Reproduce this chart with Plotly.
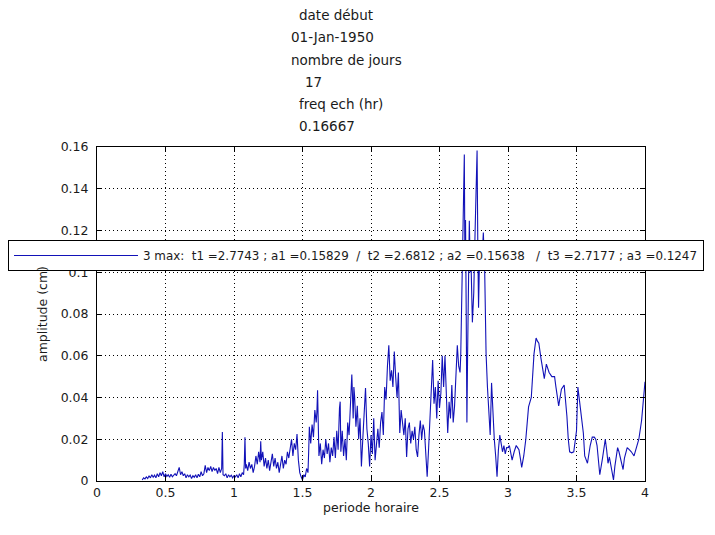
import plotly.graph_objects as go

# ---- data ----
periode = [
    0.33, 0.34, 0.35, 0.36, 0.37, 0.38, 0.39, 0.40, 0.41, 0.42, 0.43, 0.44, 0.45, 0.46, 0.47, 0.48, 0.49,
    0.50, 0.51, 0.52, 0.53, 0.54, 0.55, 0.56, 0.57, 0.58, 0.59, 0.60, 0.61, 0.62, 0.63, 0.64, 0.65, 0.66,
    0.67, 0.68, 0.69, 0.70, 0.71, 0.72, 0.73, 0.74, 0.75, 0.76, 0.77, 0.78, 0.79, 0.80, 0.81, 0.82, 0.83,
    0.84, 0.85, 0.86, 0.87, 0.88, 0.89, 0.90, 0.91, 0.915, 0.92, 0.93, 0.94, 0.95, 0.96, 0.97, 0.98, 0.99,
    1.00, 1.01, 1.02, 1.03, 1.04, 1.05, 1.06, 1.07, 1.075, 1.08, 1.085, 1.09, 1.10, 1.11, 1.12, 1.13, 1.14,
    1.15, 1.16, 1.17, 1.18, 1.19, 1.195, 1.20, 1.21, 1.22, 1.23, 1.24, 1.25, 1.26, 1.27, 1.28, 1.29, 1.30,
    1.31, 1.32, 1.33, 1.34, 1.35, 1.36, 1.37, 1.38, 1.39, 1.40, 1.41, 1.42, 1.43, 1.44, 1.45, 1.46, 1.47,
    1.48, 1.49, 1.50, 1.51, 1.52, 1.53, 1.54, 1.545, 1.55, 1.56, 1.57, 1.58, 1.59, 1.60, 1.605, 1.61, 1.615,
    1.62, 1.63, 1.64, 1.65, 1.66, 1.67, 1.68, 1.69, 1.70, 1.71, 1.72, 1.73, 1.74, 1.75, 1.76, 1.77, 1.775,
    1.78, 1.79, 1.80, 1.81, 1.82, 1.83, 1.84, 1.85, 1.86, 1.87, 1.875, 1.88, 1.89, 1.90, 1.91, 1.92, 1.93,
    1.94, 1.95, 1.96, 1.97, 1.98, 1.99, 2.00, 2.01, 2.02, 2.03, 2.04, 2.05, 2.06, 2.07, 2.08, 2.09, 2.10,
    2.11, 2.12, 2.13, 2.14, 2.15, 2.16, 2.17, 2.18, 2.19, 2.20, 2.21, 2.22, 2.23, 2.24, 2.25, 2.26, 2.27,
    2.28, 2.29, 2.30, 2.31, 2.32, 2.33, 2.34, 2.35, 2.36, 2.37, 2.38, 2.39, 2.40, 2.41, 2.42, 2.43, 2.44,
    2.45, 2.46, 2.47, 2.48, 2.49, 2.50, 2.51, 2.52, 2.53, 2.54, 2.55, 2.56, 2.57, 2.58, 2.59, 2.60, 2.61,
    2.62, 2.63, 2.64, 2.65, 2.655, 2.66, 2.67, 2.6812, 2.685, 2.69, 2.695, 2.70, 2.705, 2.71, 2.7177, 2.725,
    2.73, 2.74, 2.75, 2.76, 2.765, 2.7743, 2.78, 2.785, 2.79, 2.80, 2.81, 2.82, 2.83, 2.84, 2.85, 2.86, 2.87,
    2.88, 2.89, 2.90, 2.91, 2.92, 2.93, 2.94, 2.95, 2.96, 2.97, 2.98, 2.99,
    3.00, 3.01, 3.02, 3.03, 3.045, 3.06, 3.07, 3.08, 3.09, 3.10, 3.115, 3.13, 3.15, 3.17, 3.19, 3.205, 3.215,
    3.225, 3.24, 3.255, 3.265, 3.28, 3.29, 3.30, 3.32, 3.34, 3.35, 3.36, 3.37, 3.38, 3.39, 3.41, 3.42, 3.43,
    3.44, 3.45, 3.465, 3.48, 3.49, 3.50, 3.51, 3.52, 3.53, 3.54, 3.55, 3.56, 3.58, 3.60, 3.615, 3.63, 3.64,
    3.65, 3.66, 3.67, 3.69, 3.71, 3.72, 3.73, 3.74, 3.755, 3.77, 3.78, 3.80, 3.81, 3.82, 3.84, 3.85, 3.87,
    3.885, 3.90, 3.92, 3.94, 3.955, 3.975, 3.99, 4.00,
]

amplitude = [
    0.0005, 0.0015, 0.001, 0.002, 0.0012, 0.0025, 0.0015, 0.003, 0.0018, 0.0028, 0.0015, 0.0035, 0.002, 0.004, 0.0025, 0.0045, 0.002,
    0.0035, 0.0022, 0.003, 0.0018, 0.0032, 0.002, 0.0028, 0.0035, 0.0025, 0.0045, 0.0065, 0.003, 0.0045, 0.0025, 0.0035, 0.0015, 0.003,
    0.002, 0.0028, 0.0012, 0.0025, 0.0018, 0.003, 0.0015, 0.0032, 0.002, 0.0045, 0.0025, 0.0035, 0.0075, 0.004, 0.0065, 0.005, 0.007,
    0.0045, 0.0065, 0.005, 0.006, 0.0035, 0.0065, 0.004, 0.006, 0.0235, 0.003, 0.0025, 0.0035, 0.0015, 0.003, 0.002, 0.0028, 0.0015,
    0.0025, 0.002, 0.003, 0.0015, 0.0035, 0.002, 0.004, 0.003, 0.008, 0.021, 0.006, 0.008, 0.005, 0.009, 0.006, 0.008, 0.004,
    0.007, 0.012, 0.008, 0.014, 0.009, 0.019, 0.010, 0.014, 0.007, 0.011, 0.006, 0.010, 0.005, 0.009, 0.013, 0.007, 0.011,
    0.006, 0.009, 0.004, 0.008, 0.012, 0.006, 0.010, 0.008, 0.014, 0.011, 0.017, 0.020, 0.012, 0.018, 0.015, 0.0225, 0.010,
    0.004, 0.002, 0.0005, 0.003, 0.002, 0.006, 0.004, 0.014, 0.026, 0.018, 0.027, 0.021, 0.034, 0.028, 0.033, 0.0435, 0.020,
    0.012, 0.018, 0.008, 0.015, 0.011, 0.020, 0.013, 0.018, 0.009, 0.016, 0.012, 0.021, 0.011, 0.024, 0.015, 0.035, 0.038,
    0.014, 0.024, 0.012, 0.020, 0.010, 0.028, 0.022, 0.038, 0.051, 0.030, 0.045, 0.041, 0.026, 0.036, 0.020, 0.030, 0.007,
    0.020, 0.030, 0.0445, 0.025, 0.018, 0.007, 0.022, 0.013, 0.030, 0.010, 0.020, 0.025, 0.016, 0.028, 0.033, 0.022, 0.045,
    0.039, 0.055, 0.065, 0.048, 0.053, 0.045, 0.062, 0.050, 0.040, 0.052, 0.023, 0.034, 0.029, 0.022, 0.030, 0.0115, 0.025,
    0.028, 0.018, 0.024, 0.020, 0.026, 0.015, 0.0115, 0.022, 0.029, 0.020, 0.027, 0.024, 0.012, 0.002, 0.015, 0.028, 0.039,
    0.058, 0.037, 0.045, 0.030, 0.048, 0.035, 0.042, 0.060, 0.045, 0.060, 0.040, 0.023, 0.038, 0.030, 0.046, 0.028, 0.036,
    0.050, 0.065, 0.055, 0.052, 0.060, 0.080, 0.130, 0.15638, 0.110, 0.125, 0.080, 0.028, 0.060, 0.100, 0.1247, 0.100,
    0.105, 0.076, 0.090, 0.120, 0.140, 0.15829, 0.110, 0.083, 0.100, 0.115, 0.105, 0.119, 0.100, 0.061, 0.045, 0.035, 0.022,
    0.047, 0.030, 0.020, 0.012, 0.002, 0.015, 0.022, 0.018, 0.014, 0.017, 0.013, 0.016,
    0.016, 0.017, 0.013, 0.010, 0.014, 0.017, 0.016, 0.015, 0.011, 0.0065, 0.012, 0.020, 0.0355, 0.040, 0.061, 0.0685, 0.067,
    0.066, 0.059, 0.052, 0.049, 0.056, 0.054, 0.052, 0.050, 0.050, 0.045, 0.039, 0.036, 0.040, 0.044, 0.046, 0.040, 0.031,
    0.020, 0.014, 0.0135, 0.014, 0.019, 0.024, 0.045, 0.040, 0.035, 0.028, 0.023, 0.012, 0.0085, 0.017, 0.021, 0.021, 0.020,
    0.017, 0.009, 0.003, 0.011, 0.020, 0.015, 0.0085, 0.0115, 0.006, 0.0005, 0.007, 0.016, 0.014, 0.011, 0.0055, 0.011, 0.016,
    0.015, 0.014, 0.012, 0.016, 0.020, 0.029, 0.042, 0.0475,
]

x_tickvals = [0, 0.5, 1, 1.5, 2, 2.5, 3, 3.5, 4]
x_ticktext = ["0", "0.5", "1", "1.5", "2", "2.5", "3", "3.5", "4"]
y_tickvals = [0, 0.02, 0.04, 0.06, 0.08, 0.1, 0.12, 0.14, 0.16]
y_ticktext = ["0", "0.02", "0.04", "0.06", "0.08", "0.1", "0.12", "0.14", "0.16"]

title_lines = ["date début", "01-Jan-1950", "nombre de jours", "17", "freq ech (hr)", "0.16667"]
title_x = [0.365, 0.350, 0.350, 0.376, 0.365, 0.365]
title_y = [1.395, 1.329, 1.260, 1.195, 1.129, 1.063]

legend_label = "3 max:  t1 =2.7743 ; a1 =0.15829  /  t2 =2.6812 ; a2 =0.15638   /  t3 =2.7177 ; a3 =0.1247"

FONT = "DejaVu Sans"
TXT = "#1a1a1a"

fig = go.Figure()
fig.add_trace(go.Scatter(
    x=periode, y=amplitude, mode="lines", name=legend_label,
    line=dict(color="#1212b8", width=1.1),
))

annotations = []
for t, xx, yy in zip(title_lines, title_x, title_y):
    annotations.append(dict(
        text=t, x=xx, y=yy, xref="paper", yref="paper",
        xanchor="left", yanchor="middle", showarrow=False,
        font=dict(family=FONT, size=13.5, color=TXT),
    ))

axis_common = dict(
    showline=True, linecolor="black", linewidth=1, mirror="ticks",
    ticks="inside", ticklen=5, tickcolor="black", tickwidth=1,
    showgrid=True, gridcolor="black", gridwidth=1, griddash="1px,3px",
    zeroline=False, tickfont=dict(family=FONT, size=12.5, color=TXT),
)

# page body adds an 8px offset; figure sized so the plot area lands at
# x 97..645, y 147..481 of the window
fig.update_layout(
    width=707, height=527,
    margin=dict(l=89, r=70, t=139, b=54, autoexpand=False),
    paper_bgcolor="white", plot_bgcolor="white",
    showlegend=True,
    legend=dict(
        x=-0.1624, y=0.7216, xanchor="left", yanchor="top",
        bgcolor="white", bordercolor="black", borderwidth=1,
        font=dict(family=FONT, size=11.9, color=TXT),
        itemwidth=124, tracegroupgap=0,
    ),
    annotations=annotations,
    xaxis=dict(
        range=[0, 4], tickvals=x_tickvals, ticktext=x_ticktext,
        title=dict(text="periode horaire", font=dict(family=FONT, size=12.5, color=TXT), standoff=4),
        **axis_common,
    ),
    yaxis=dict(
        range=[0, 0.16], tickvals=y_tickvals, ticktext=y_ticktext,
        ticklabelstandoff=5,
        title=dict(text="amplitude (cm)", font=dict(family=FONT, size=12.5, color=TXT), standoff=10),
        **axis_common,
    ),
)

fig.write_html("out.html")
